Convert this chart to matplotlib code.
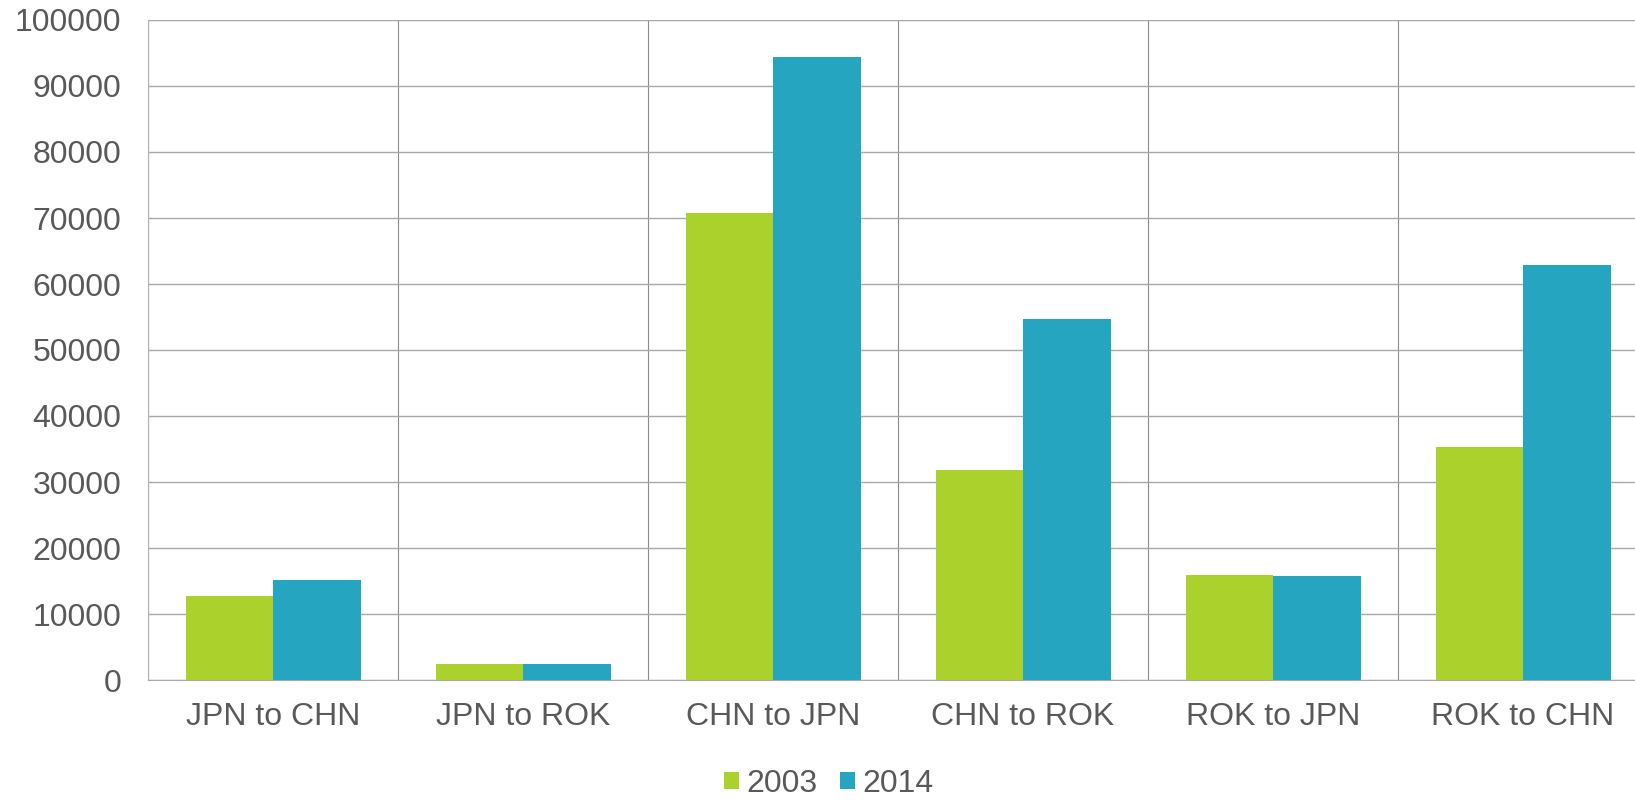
import matplotlib.pyplot as plt
import numpy as np

categories = ["JPN to CHN", "JPN to ROK", "CHN to JPN", "CHN to ROK", "ROK to JPN", "ROK to CHN"]
series_names = ["2003", "2014"]
values_2003 = [12750, 2400, 70800, 31800, 15850, 35300]
values_2014 = [15080, 2400, 94400, 54650, 15800, 62950]
yticks = [0, 10000, 20000, 30000, 40000, 50000, 60000, 70000, 80000, 90000, 100000]

green = "#aad12c"
blue = "#26a5c1"
text_color = "#595959"

plt.rcParams["font.family"] = ["Liberation Sans", "DejaVu Sans"]

fig = plt.figure(figsize=(16.35, 8), dpi=100)
# plot area runs past the right edge of the image, as in the reference
ax = fig.add_axes([148 / 1635, 120 / 800, 1500 / 1635, 660 / 800])

x = np.arange(len(categories))
w = 0.35
b1 = ax.bar(x - w / 2, values_2003, width=w, color=green, label=series_names[0], zorder=3)
b2 = ax.bar(x + w / 2, values_2014, width=w, color=blue, label=series_names[1], zorder=3)

ax.set_xlim(-0.5, len(categories) - 0.5)
ax.set_ylim(0, 100000)
ax.set_yticks(yticks)
ax.set_xticks(x)
ax.set_xticklabels(categories)
ax.set_xticks(np.arange(-0.5, len(categories), 1), minor=True)

ax.grid(axis="y", which="major", color="#a8a8a8", linewidth=1, zorder=0)
ax.grid(axis="x", which="minor", color="#8c8c8c", linewidth=0.8, zorder=0)
ax.grid(axis="x", which="major", visible=False)

for side in ["top", "right"]:
    ax.spines[side].set_visible(False)
ax.spines["left"].set_color("#b0b0b0")
ax.spines["bottom"].set_color("#a8a8a8")

ax.tick_params(axis="both", which="both", length=0, labelsize=23, labelcolor=text_color)
ax.tick_params(axis="x", which="major", pad=16)
ax.tick_params(axis="y", pad=19)

fig.legend(handles=[b1, b2], loc="center", bbox_to_anchor=(829 / 1635, 0.02), ncol=2,
           frameon=False, fontsize=23, labelcolor=text_color,
           handlelength=0.47, handleheight=0.47, handletextpad=0.22, columnspacing=0.72,
           borderpad=0)

fig.savefig("out.png", dpi=100)
